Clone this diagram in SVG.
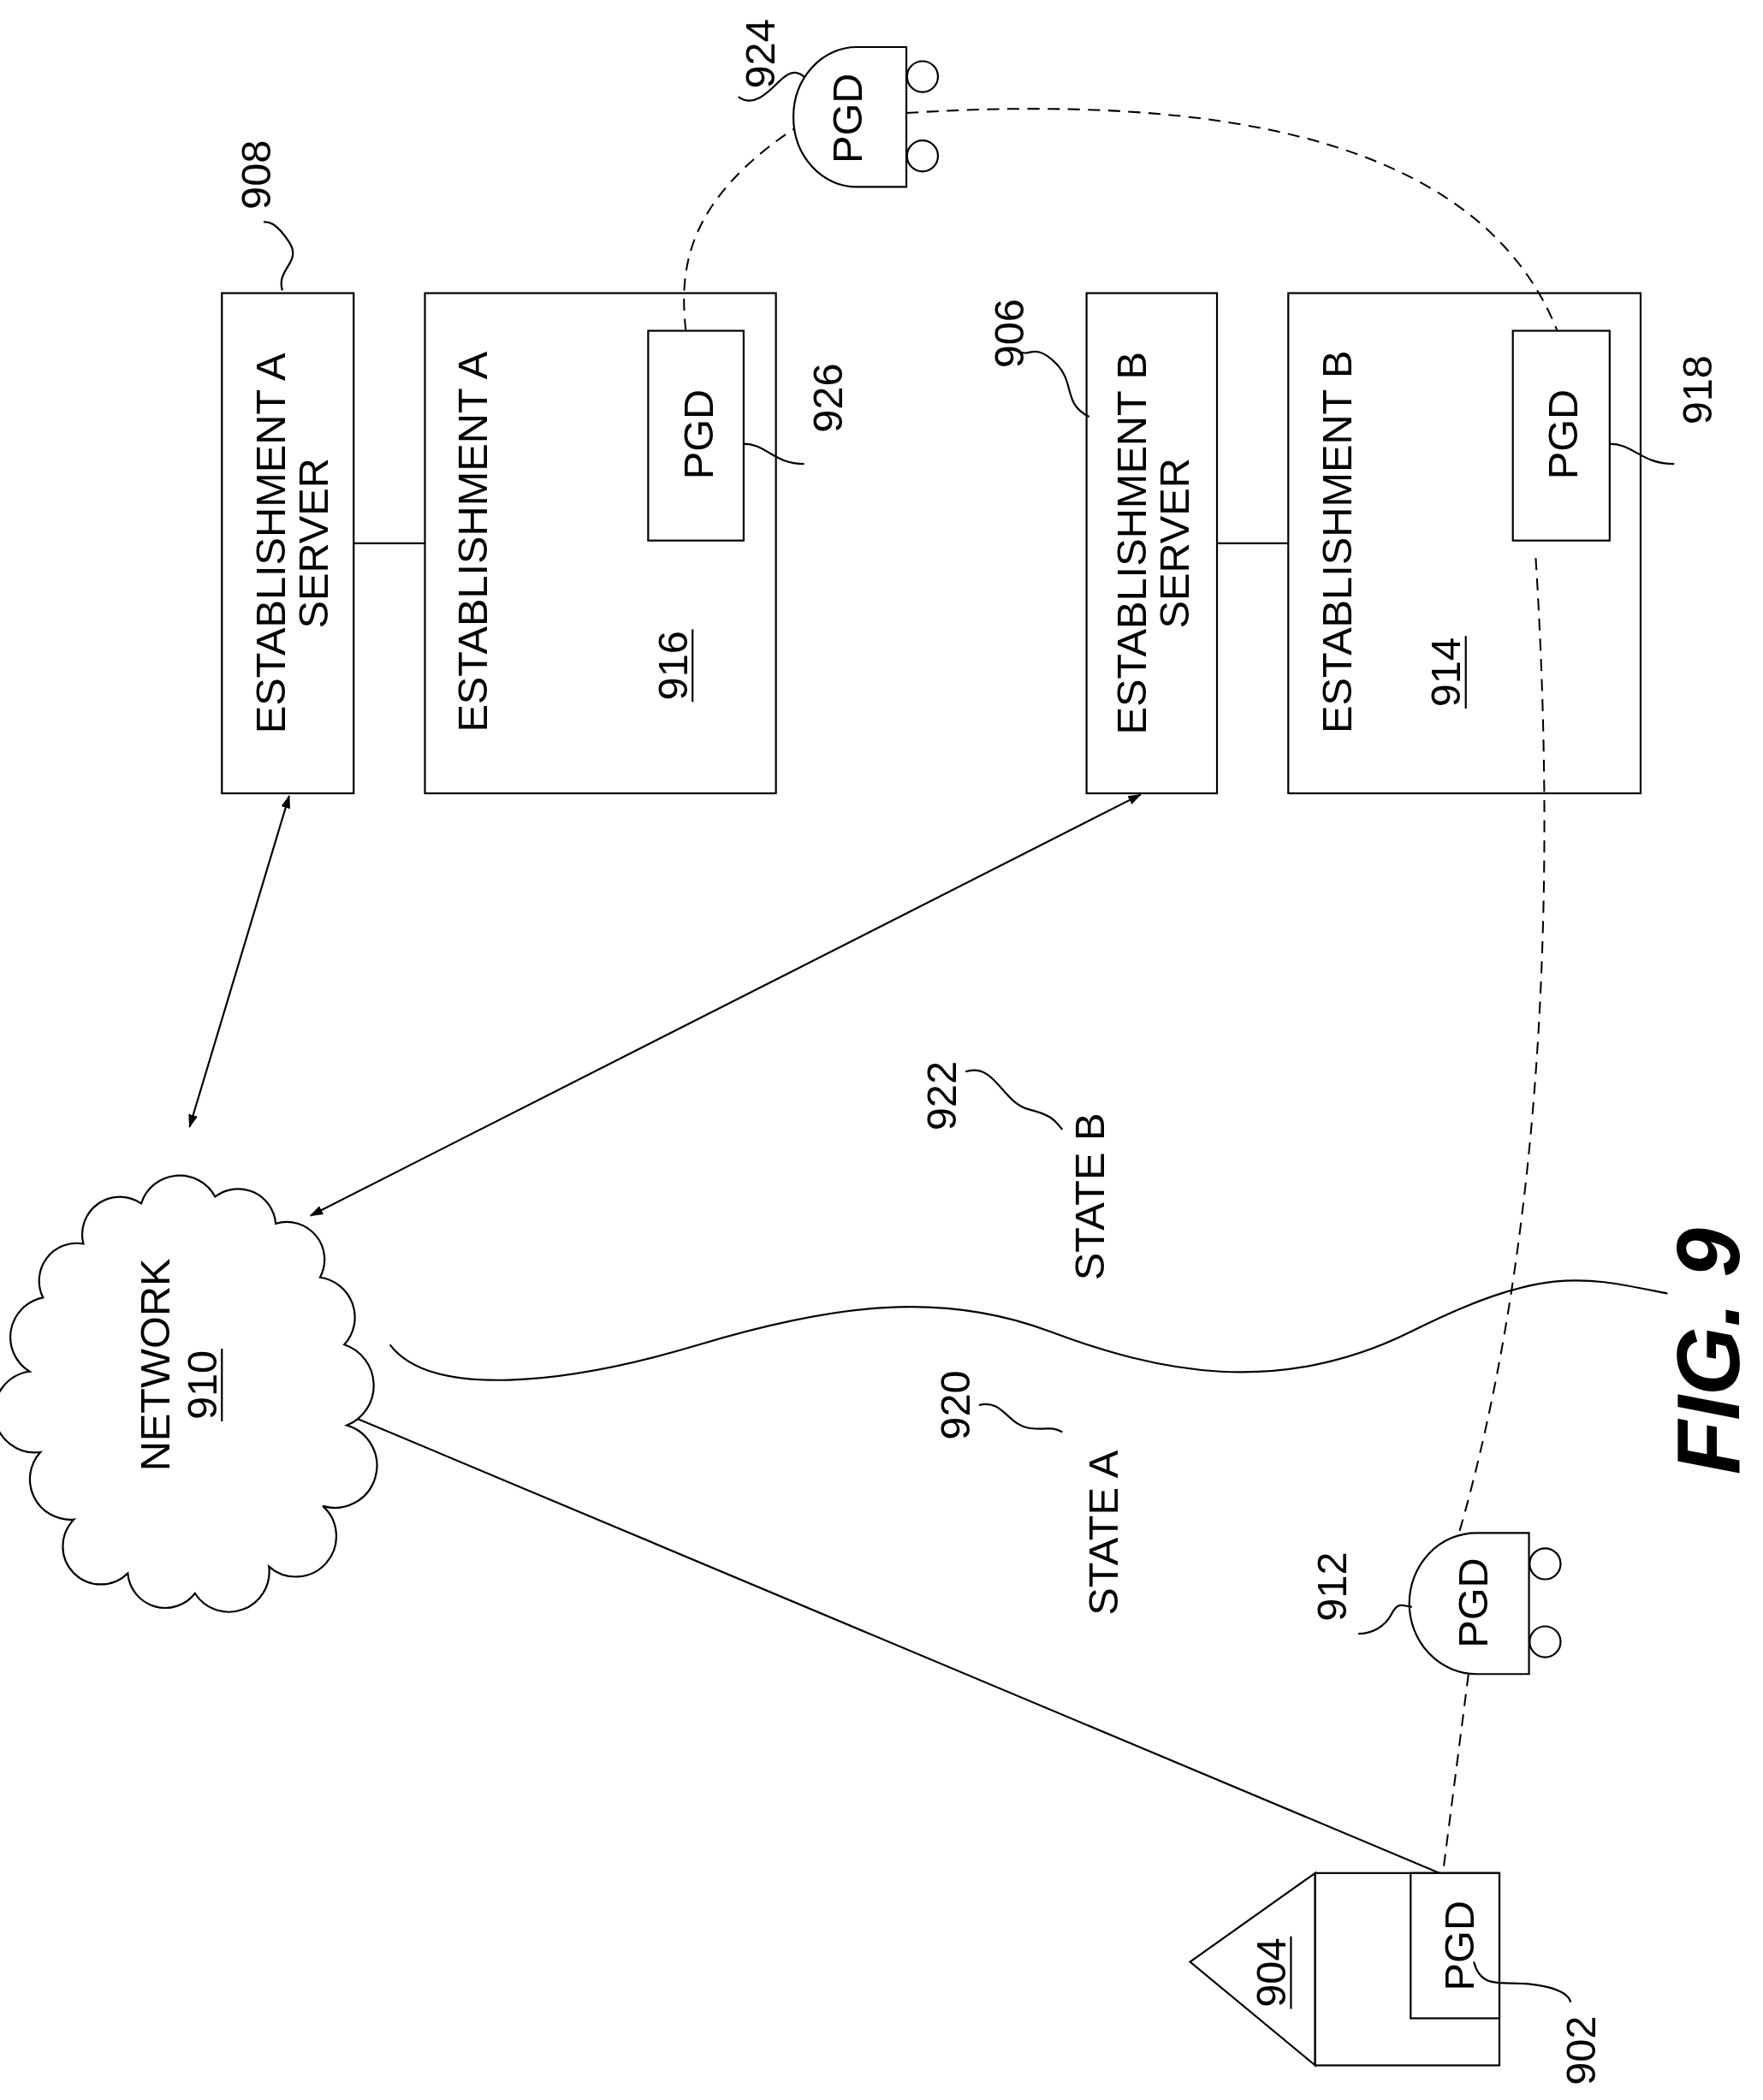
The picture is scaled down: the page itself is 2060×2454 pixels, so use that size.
<svg xmlns="http://www.w3.org/2000/svg" width="2060" height="2454" viewBox="0 0 2060 2454">
<defs>
<marker id="ah" viewBox="0 0 10 10" refX="9" refY="5" markerWidth="10" markerHeight="10" orient="auto-start-reverse" markerUnits="userSpaceOnUse"><path d="M0,1.5 L10,5 L0,8.5 Z" fill="#000"/></marker>
<style>
.s{fill:none;stroke:#000;stroke-width:1.4}
.d{fill:none;stroke:#000;stroke-width:1.3;stroke-dasharray:9,6}
.b{fill:#fff;stroke:#000;stroke-width:1.4}
text{font-family:"Liberation Sans",Arial,sans-serif;font-size:31px;fill:#000;text-anchor:middle}
.f{font-size:66px;font-weight:bold;font-style:italic}
</style>
</defs>
<rect width="2060" height="2454" fill="#fff"/>
<g transform="scale(1.5713)">
<g id="n908">
<rect class="b" x="165" y="218" width="98" height="372"/>
<text transform="translate(212,404) rotate(-90)">ESTABLISHMENT A</text>
<text transform="translate(244,404) rotate(-90)">SERVER</text>
<path class="s" d="M210,216 C205,200 225,195 215,180 S200,165 196,165"/>
<text transform="translate(201,130) rotate(-90)">908</text>
</g>
<g id="n916">
<rect class="b" x="316" y="218" width="261" height="372"/>
<text transform="translate(362,403) rotate(-90)">ESTABLISHMENT A</text>
<text transform="translate(511,495) rotate(-90)">916</text>
<line class="s" x1="515" y1="468" x2="515" y2="522"/>
</g>
<g id="n926">
<rect class="b" x="482" y="246" width="71" height="156"/>
<text transform="translate(530,323) rotate(-90)">PGD</text>
<path class="s" d="M553,330 C570,330 575,345 598,345"/>
<text transform="translate(626,296) rotate(-90)">926</text>
</g>
<g id="n906">
<rect class="b" x="808" y="218" width="97" height="372"/>
<text transform="translate(852,404) rotate(-90)">ESTABLISHMENT B</text>
<text transform="translate(884,404) rotate(-90)">SERVER</text>
<path class="s" d="M810,310 C790,300 800,285 785,270 S765,265 760,262"/>
<text transform="translate(761,248) rotate(-90)">906</text>
</g>
<g id="n914">
<rect class="b" x="958" y="218" width="262" height="372"/>
<text transform="translate(1005,403) rotate(-90)">ESTABLISHMENT B</text>
<text transform="translate(1086,500) rotate(-90)">914</text>
<line class="s" x1="1090" y1="473" x2="1090" y2="527"/>
</g>
<g id="n918">
<rect class="b" x="1125" y="246" width="72" height="156"/>
<text transform="translate(1173,323) rotate(-90)">PGD</text>
<path class="s" d="M1197,330 C1215,330 1220,345 1245,345"/>
<text transform="translate(1273,290) rotate(-90)">918</text>
</g>
<g id="connectors">
<line class="s" x1="263" y1="404" x2="316" y2="404"/>
<line class="s" x1="905" y1="404" x2="958" y2="404"/>
<line class="s" x1="215" y1="592" x2="141" y2="838" marker-start="url(#ah)" marker-end="url(#ah)"/>
<line class="s" x1="848" y1="591" x2="231" y2="904" marker-start="url(#ah)" marker-end="url(#ah)"/>
<line class="s" x1="1073" y1="1394" x2="256" y2="1051" marker-end="url(#ah)"/>
<path class="d" d="M510,246 C505,200 510,150 590,96"/>
<path class="d" d="M674,84 C900,70 1100,100 1158,246"/>
<path class="d" d="M1142,415 C1160,700 1140,950 1085,1140"/>
<path class="d" d="M1092,1245 L1073,1393"/>
<path class="s" d="M290,1000 C320,1040 420,1030 520,1000 S700,960 780,990 S950,1040 1050,990 S1180,950 1240,962"/>
</g>
<g id="n924">
<path class="b" d="M674,35 L637,35 A47,52 0 0 0 637,139 L674,139 Z"/>
<circle class="b" cx="686" cy="57" r="11.5"/>
<circle class="b" cx="686" cy="116" r="11.5"/>
<text transform="translate(641,88) rotate(-90)">PGD</text>
<path class="s" d="M549,72 C560,80 570,70 580,60 S595,55 598,57"/>
<text transform="translate(576,40) rotate(-90)">924</text>
</g>
<g id="n910">
<path class="b" d="M62,925 A28,28 0 0 1 105,895 A30,30 0 0 1 160,890 A28,28 0 0 1 205,910 A28,28 0 0 1 238,950 A30,30 0 0 1 256,1000 A32,32 0 0 1 258,1060 A30,30 0 0 1 240,1120 A30,30 0 0 1 200,1165 A30,30 0 0 1 145,1185 A28,28 0 0 1 95,1170 A28,28 0 0 1 55,1130 A30,30 0 0 1 30,1080 A30,30 0 0 1 22,1020 A30,30 0 0 1 32,965 A28,28 0 0 1 62,925 Z"/>
<text transform="translate(126,1015) rotate(-90)">NETWORK</text>
<text transform="translate(161,1030) rotate(-90)">910</text>
<line class="s" x1="165" y1="1003" x2="165" y2="1057"/>
</g>
<g id="n922">
<text transform="translate(821,890) rotate(-90)">STATE B</text>
<path class="s" d="M718,797 C740,790 745,820 765,825 S785,835 790,840"/>
<text transform="translate(711,815) rotate(-90)">922</text>
</g>
<g id="n920">
<text transform="translate(831,1140) rotate(-90)">STATE A</text>
<path class="s" d="M728,1045 C745,1040 750,1060 765,1062 S780,1060 790,1065"/>
<text transform="translate(721,1045) rotate(-90)">920</text>
</g>
<g id="n912">
<path class="b" d="M1137,1140 L1098,1140 A50,52.5 0 0 0 1098,1245 L1137,1245 Z"/>
<circle class="b" cx="1149" cy="1163" r="11.5"/>
<circle class="b" cx="1149" cy="1221" r="11.5"/>
<text transform="translate(1106,1192) rotate(-90)">PGD</text>
<path class="s" d="M1010,1215 C1020,1215 1030,1210 1035,1200 S1045,1195 1050,1195"/>
<text transform="translate(1001,1180) rotate(-90)">912</text>
</g>
<g id="n904">
<path class="b" d="M978,1393 L885,1459 L978,1536 Z"/>
<rect class="b" x="978" y="1393" width="137" height="143"/>
<text transform="translate(956,1467) rotate(-90)">904</text>
<line class="s" x1="960" y1="1440" x2="960" y2="1494"/>
</g>
<g id="n902">
<rect class="b" x="1049" y="1393" width="66" height="108"/>
<text transform="translate(1096,1447) rotate(-90)">PGD</text>
<path class="s" d="M1096,1459 C1100,1475 1110,1475 1125,1475 S1165,1478 1168,1489"/>
<text transform="translate(1186,1525) rotate(-90)">902</text>
</g>
<text class="f" transform="translate(1293,1005) rotate(-90)">FIG. 9</text>
</g>
</svg>
